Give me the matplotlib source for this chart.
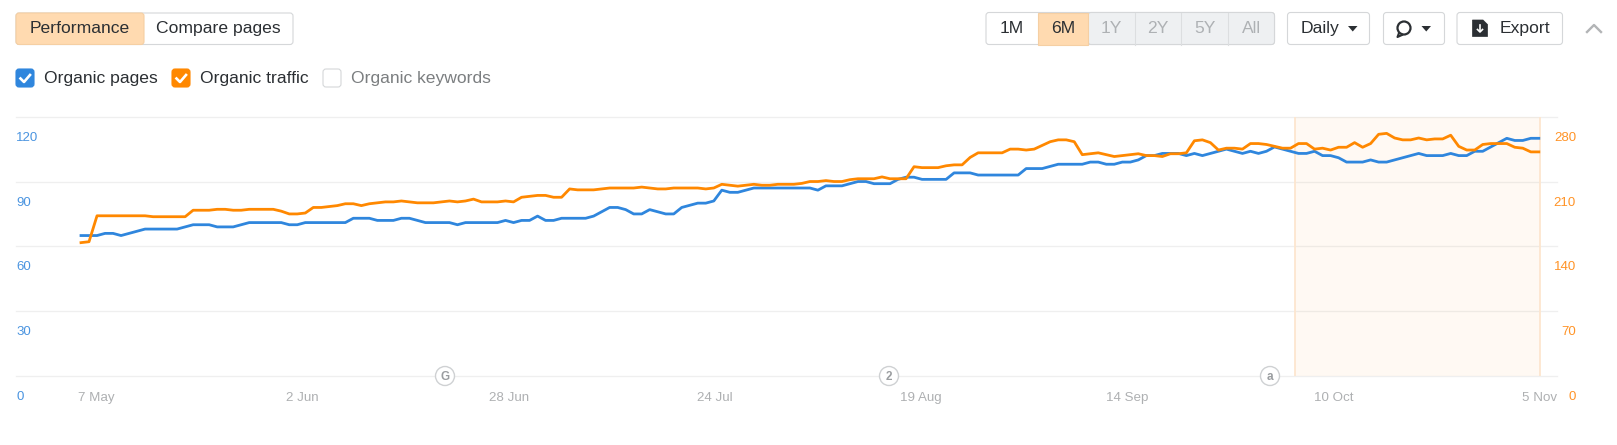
import matplotlib
matplotlib.use('Agg')
import matplotlib.pyplot as plt
import matplotlib.patches as patches
from matplotlib.transforms import ScaledTranslation

plt.rcParams['font.family'] = ['Liberation Sans', 'DejaVu Sans']

W, H = 1617, 445

# one value per day, 7 May .. 5 Nov
organic_pages = [
    65, 65, 65, 66, 66, 65, 66, 67, 68, 68, 68, 68, 68, 69, 70, 70, 70, 69, 69, 69,
    70, 71, 71, 71, 71, 71, 70, 70, 71, 71, 71, 71, 71, 71, 73, 73, 73, 72, 72, 72,
    73, 73, 72, 71, 71, 71, 71, 70, 71, 71, 71, 71, 71, 72, 71, 72, 72, 74, 72, 72,
    73, 73, 73, 73, 74, 76, 78, 78, 77, 75, 75, 77, 76, 75, 75, 78, 79, 80, 80, 81,
    86, 85, 85, 86, 87, 87, 87, 87, 87, 87, 87, 87, 86, 88, 88, 88, 89, 90, 90, 89,
    89, 89, 91, 92, 92, 91, 91, 91, 91, 94, 94, 94, 93, 93, 93, 93, 93, 93, 96, 96,
    96, 97, 98, 98, 98, 98, 99, 99, 98, 98, 99, 99, 100, 102, 102, 103, 103, 103, 102, 103,
    102, 103, 104, 105, 104, 103, 104, 103, 104, 106, 105, 104, 103, 103, 104, 102, 102, 101, 99, 99,
    99, 100, 99, 99, 100, 101, 102, 103, 102, 102, 102, 103, 102, 102, 104, 104, 106, 108, 110, 109,
    109, 110, 110,
]
organic_traffic = [
    144, 145, 173, 173, 173, 173, 173, 173, 173, 172, 172, 172, 172, 172, 179, 179, 179, 180, 180, 179,
    179, 180, 180, 180, 180, 178, 175, 175, 176, 182, 182, 183, 184, 186, 186, 184, 186, 187, 188, 188,
    189, 188, 187, 187, 187, 188, 189, 188, 189, 191, 188, 188, 188, 189, 188, 193, 194, 195, 195, 193,
    193, 202, 201, 201, 201, 202, 203, 203, 203, 203, 204, 203, 202, 202, 203, 203, 203, 203, 202, 203,
    207, 206, 205, 206, 207, 206, 206, 207, 207, 207, 208, 210, 210, 211, 210, 210, 212, 213, 213, 213,
    215, 213, 213, 213, 226, 225, 225, 225, 227, 228, 228, 236, 241, 241, 241, 241, 245, 245, 244, 245,
    249, 253, 255, 255, 253, 239, 240, 241, 239, 237, 238, 239, 240, 238, 238, 237, 240, 240, 241, 254,
    255, 252, 244, 246, 246, 245, 251, 251, 250, 248, 246, 246, 251, 251, 245, 246, 244, 247, 247, 252,
    247, 251, 261, 262, 257, 255, 255, 257, 255, 256, 256, 260, 248, 244, 244, 250, 251, 251, 251, 247,
    246, 242, 242,
]
date_labels = ['7 May', '2 Jun', '28 Jun', '24 Jul', '19 Aug', '14 Sep', '10 Oct', '5 Nov']
pages_ticks = [0, 30, 60, 90, 120]
traffic_ticks = [0, 70, 140, 210, 280]
period_labels = ['1M', '6M', '1Y', '2Y', '5Y', 'All']
event_labels = ['G', '2', 'a']

BLUE = '#2f86dd'
ORANGE = '#ff8800'
PEACH = '#ffdab0'
PEACH_EDGE = '#f5cfa3'
BORDER = '#d5d7d9'
DARK = '#2b2f33'


def draw_button(ax, x0, y0, x1, y1, face='white', edge=BORDER, radius=3):
    box = patches.FancyBboxPatch((x0 + radius, y0 + radius), x1 - x0 - 2 * radius, y1 - y0 - 2 * radius,
                                 boxstyle='round,pad=%d,rounding_size=%d' % (radius, radius),
                                 facecolor=face, edgecolor=edge, linewidth=0.8)
    ax.add_patch(box)


def draw_check(ax, x, y, color):
    draw_button(ax, x, y, x + 18, y + 18, face=color, edge=color, radius=3)
    ax.plot([x + 4.5, x + 8, x + 14], [y + 9.5, y + 13, y + 6], color='white', lw=1.9)


def draw_triangle(ax, x, y, color=DARK):
    ax.add_patch(patches.Polygon([(x, y), (x + 9.5, y), (x + 4.75, y + 5.5)], closed=True, facecolor=color,
                                 edgecolor='none'))


fig = plt.figure(figsize=(W / 100, H / 100), dpi=100, facecolor='white')

# chart, placed by pixel box
left, right, top, bottom = 16, 1557, 116.7, 376
ax = fig.add_axes([left / W, 1 - bottom / H, (right - left) / W, (bottom - top) / H])
ax2 = ax.twinx()
days = list(range(len(organic_pages)))
ax.set_xlim((left - 81) / 8.01, (right - 81) / 8.01)
ax.set_ylim(0, 120)
ax2.set_ylim(0, 280)

for s in ax.spines.values():
    s.set_visible(False)
for s in ax2.spines.values():
    s.set_visible(False)

ax.set_yticks(pages_ticks)
ax.set_yticklabels([str(v) for v in pages_ticks], color='#4a94e0', fontsize=9.5, ha='left')
ax2.set_yticks(traffic_ticks)
ax2.set_yticklabels([str(v) for v in traffic_ticks], color='#ff9326', fontsize=9.5, ha='right')
ax.tick_params(axis='y', length=0, pad=0)
ax2.tick_params(axis='y', length=0, pad=13.7)
ax.grid(axis='y', color='#efefef', lw=0.9, clip_on=False)
ax.set_axisbelow(True)
for line in ax.get_ygridlines():
    line.set_clip_on(False)

# labels sit under their gridline
shift = ScaledTranslation(0, -19.5 / 100, fig.dpi_scale_trans)
for lab in ax.get_yticklabels() + ax2.get_yticklabels():
    lab.set_transform(lab.get_transform() + shift)

ax.set_xticks([1.9 + 25.75 * i for i in range(len(date_labels))])
ax.set_xticklabels(date_labels, color='#aeb0b2', fontsize=9.6)
ax.tick_params(axis='x', length=0, pad=11.2)

ax.axvspan(151.6, 182.2, facecolor='#ff9a33', edgecolor='none', alpha=0.055, zorder=1)
ax.axvline(151.6, color='#fde6cf', lw=1.3, zorder=1.1)
ax.axvline(182.2, color='#fde6cf', lw=1.3, zorder=1.1)
ax.plot(days, organic_pages, color=BLUE, lw=2.0, solid_joinstyle='round', zorder=3)
ax2.plot(days, organic_traffic, color=ORANGE, lw=2.0, solid_joinstyle='round', zorder=4)

# controls above the chart, in pixel coordinates
ui = fig.add_axes([0, 0, 1, 1], facecolor='none')
ui.set_xlim(0, W)
ui.set_ylim(H, 0)
ui.axis('off')

draw_button(ui, 16, 13, 293, 44.5)
draw_button(ui, 16, 13, 144, 44.5, face=PEACH, edge=PEACH_EDGE)
ui.text(80, 28.5, 'Performance', fontsize=12.6, color=DARK, ha='center', va='center')
ui.text(218, 28.5, 'Compare pages', fontsize=12.6, color=DARK, ha='center', va='center')

draw_check(ui, 16, 69, BLUE)
ui.text(44, 78.5, 'Organic pages', fontsize=12.6, color=DARK, va='center')
draw_check(ui, 172, 69, ORANGE)
ui.text(200, 78.5, 'Organic traffic', fontsize=12.6, color=DARK, va='center')
draw_button(ui, 323, 69, 341, 87)
ui.text(351, 78.5, 'Organic keywords', fontsize=12.6, color='#7b7e80', va='center')

edges = [986, 1037.5, 1088, 1134.5, 1181, 1228, 1274.5]
draw_button(ui, edges[0], 12.5, edges[-1], 44.5)
draw_button(ui, edges[2], 12.5, edges[-1], 44.5, face='#eef0f2')
ui.add_patch(patches.Rectangle((edges[1], 12.5), edges[2] - edges[1], 32, facecolor=PEACH, edgecolor=PEACH_EDGE,
                               lw=0.8))
for i, lab in enumerate(period_labels):
    if i > 2:
        ui.plot([edges[i], edges[i]], [12.5, 44.5], color='#dcdee0', lw=0.8)
    ui.text((edges[i] + edges[i + 1]) / 2, 28.5, lab, fontsize=12.6, ha='center', va='center',
            color=DARK if i < 2 else '#aeb1b4')

draw_button(ui, 1287.5, 12.5, 1369.5, 44.5)
ui.text(1320, 28.5, 'Daily', fontsize=12.6, color=DARK, ha='center', va='center')
draw_triangle(ui, 1348, 26)

draw_button(ui, 1383.5, 12.5, 1444.5, 44.5)
ui.add_patch(patches.Circle((1404, 28), 6.5, facecolor='none', edgecolor=DARK, lw=1.6))
ui.plot([1399, 1397.5, 1402], [33, 37, 35], color=DARK, lw=1.5)
draw_triangle(ui, 1421.5, 26)

draw_button(ui, 1457, 12.5, 1562.5, 44.5)
ui.add_patch(patches.Polygon([(1472.5, 20), (1483, 20), (1487.5, 24.5), (1487.5, 36.5), (1472.5, 36.5)], closed=True,
                             facecolor=DARK, edgecolor=DARK, lw=0.5))
ui.plot([1480, 1480], [25, 31], color='white', lw=1.2)
ui.plot([1477.5, 1480, 1482.5], [29.5, 32, 29.5], color='white', lw=1.2)
ui.text(1524.5, 28.5, 'Export', fontsize=12.6, color=DARK, ha='center', va='center')

ui.plot([1587, 1594, 1601], [32, 25, 32], color='#b2b4b6', lw=1.7)

# event pins on the baseline
for x, lab in zip([445, 889, 1270], event_labels):
    ui.add_patch(patches.Circle((x, bottom), 9.5, facecolor='white', edgecolor='#cfd1d3', lw=1.0))
    ui.text(x, bottom + 1, lab, fontsize=8.5, fontweight='bold', color='#9a9da0', ha='center', va='center')

fig.savefig('out.png', dpi=100)
